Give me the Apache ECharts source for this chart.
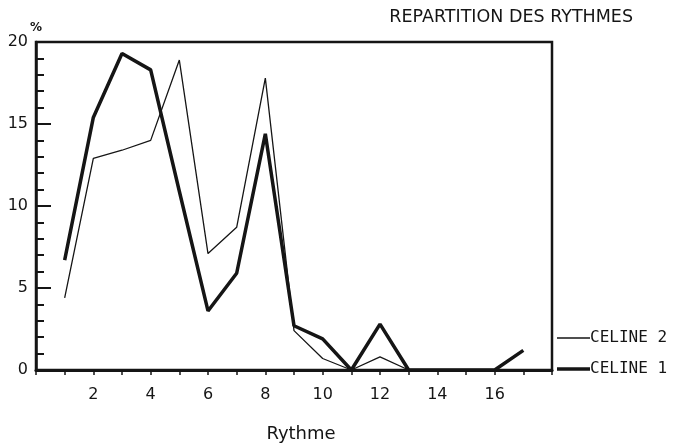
<!DOCTYPE html>
<html>
<head>
<meta charset="utf-8">
<script src="https://cdn.jsdelivr.net/npm/echarts@6/dist/echarts.min.js"></script>
<style>
  html, body { margin: 0; padding: 0; background: #fff; }
  #content { width: 675px; height: 448px; }
</style>
</head>
<body>
<div id="content"></div>
<script>
var rythmes = [1, 2, 3, 4, 5, 6, 7, 8, 9, 10, 11, 12, 13, 14, 15, 16, 17];
var celine1 = [6.7, 15.4, 19.3, 18.3, 10.9, 3.6, 5.9, 14.4, 2.7, 1.9, 0, 2.8, 0, 0, 0, 0, 1.2];
var celine2 = [4.4, 12.9, 13.4, 14.0, 18.9, 7.1, 8.7, 17.8, 2.4, 0.7, 0, 0.8, 0, 0, 0, 0, null];
var seriesNames = ['CELINE 2', 'CELINE 1'];

function pairs(vals) {
    var out = [];
    for (var i = 0; i < rythmes.length; i++) {
        if (vals[i] !== null) out.push([rythmes[i], vals[i]]);
    }
    return out;
}

var myChart = echarts.init(document.getElementById('content'));
var ink = '#151515';
var labelFont = 'DejaVu Sans';

option = {
    animation: false,
    backgroundColor: '#fff',
    title: {
        text: 'REPARTITION DES RYTHMES',
        right: 37,
        top: 3,
        textStyle: {fontFamily: labelFont, fontWeight: 'normal', fontSize: 17.5, color: ink}
    },
    legend: {
        orient: 'vertical',
        left: 557,
        top: 330,
        padding: 0,
        itemWidth: 33,
        itemHeight: 14,
        itemGap: 15,
        textStyle: {fontFamily: 'DejaVu Sans Mono', fontSize: 16, color: ink, padding: [0, 0, 0, -5]},
        data: [
            {name: seriesNames[0], icon: 'path://M0,0H33V1.3H0Z'},
            {name: seriesNames[1], icon: 'path://M0,0H33V3.5H0Z'}
        ]
    },
    grid: {
        left: 36, right: 123, top: 42, bottom: 70,
        show: true,
        borderColor: ink,
        borderWidth: 2.5,
        backgroundColor: 'transparent'
    },
    xAxis: {
        type: 'value',
        min: 0, max: 18, interval: 1,
        name: 'Rythme',
        nameLocation: 'middle',
        nameGap: 55,
        nameTextStyle: {fontFamily: labelFont, fontSize: 18, color: ink, padding: [0, 0, 0, 14]},
        axisLine: {lineStyle: {color: ink, width: 3}},
        axisTick: {show: true, length: 5, lineStyle: {color: ink, width: 1.5}},
        axisLabel: {
            margin: 17,
            fontFamily: labelFont, fontSize: 16, color: ink,
            formatter: function (v) {
                return (v > 0 && v < 18 && v % 2 === 0) ? v : '';
            }
        },
        splitLine: {show: false}
    },
    yAxis: {
        type: 'value',
        min: 0, max: 20, interval: 5,
        name: '%',
        nameLocation: 'end',
        nameGap: 6,
        nameTextStyle: {fontFamily: labelFont, fontSize: 12, color: ink, fontWeight: 'bold'},
        axisLine: {lineStyle: {color: ink, width: 2.5}},
        axisTick: {show: true, inside: true, length: 15, lineStyle: {color: ink, width: 2}},
        minorTick: {show: true, splitNumber: 5, length: 8, lineStyle: {color: ink, width: 2}},
        axisLabel: {margin: 8, fontFamily: labelFont, fontSize: 16, color: ink},
        splitLine: {show: false}
    },
    series: [
        {
            name: 'CELINE 2',
            type: 'line',
            symbol: 'none',
            data: pairs(celine2),
            lineStyle: {color: ink, width: 1.3},
            itemStyle: {color: ink}
        },
        {
            name: 'CELINE 1',
            type: 'line',
            symbol: 'none',
            data: pairs(celine1),
            lineStyle: {color: ink, width: 3.5},
            itemStyle: {color: ink}
        }
    ]
};
myChart.setOption(option);
</script>
</body>
</html>
